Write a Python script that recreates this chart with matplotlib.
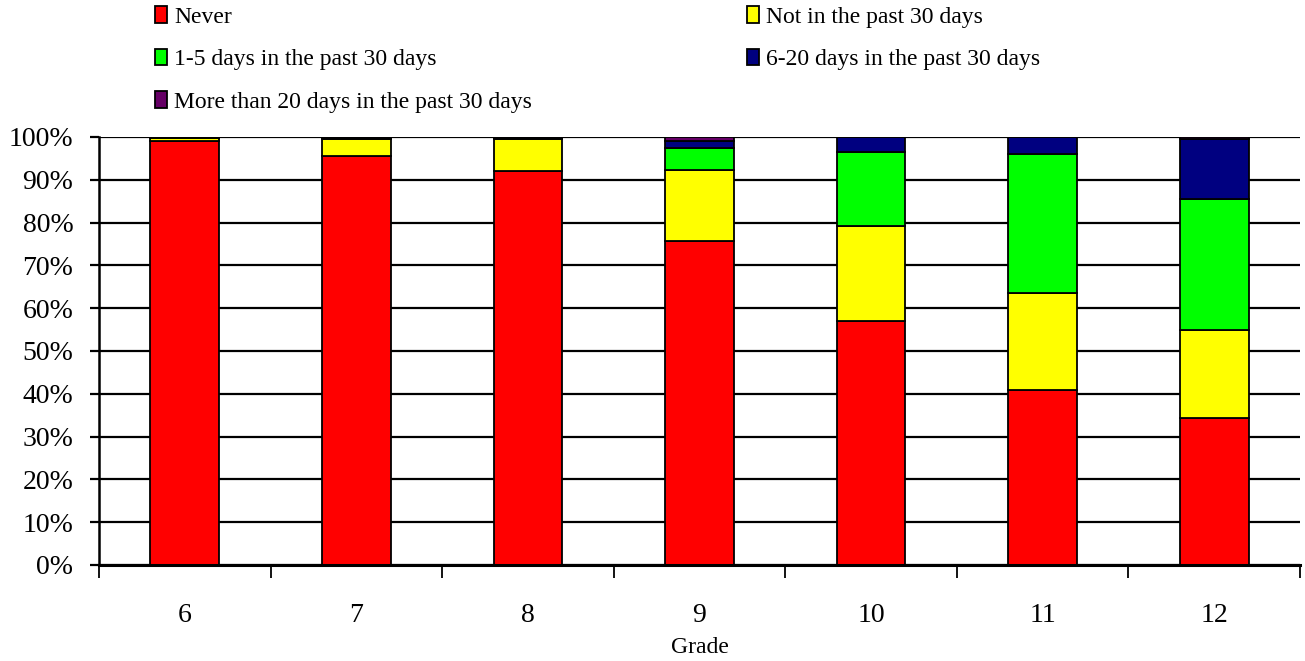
import numpy as np
import matplotlib
matplotlib.use("Agg")
import matplotlib.pyplot as plt
from matplotlib.ticker import FixedLocator, PercentFormatter

plt.rcParams['font.family'] = ['Liberation Serif', 'DejaVu Serif']

grades = ["6", "7", "8", "9", "10", "11", "12"]
never = [99.0, 95.5, 92.0, 75.8, 57.0, 40.9, 34.3]
not_30 = [0.8, 4.0, 7.5, 16.6, 22.3, 22.7, 20.6]
d1_5 = [0.1, 0.3, 0.3, 5.0, 17.2, 32.4, 30.5]
d6_20 = [0.05, 0.1, 0.1, 1.7, 3.4, 3.9, 14.1]
d20_plus = [0.05, 0.1, 0.1, 0.9, 0.1, 0.1, 0.5]

series = [
    ("Never", never, "#ff0000"),
    ("Not in the past 30 days", not_30, "#ffff00"),
    ("1-5 days in the past 30 days", d1_5, "#00ff00"),
    ("6-20 days in the past 30 days", d6_20, "#000080"),
    ("More than 20 days in the past 30 days", d20_plus, "#660066"),
]

fig = plt.figure(figsize=(13.05, 6.61), dpi=100)
ax = fig.add_axes([99 / 1305, 1 - 565 / 661, 1201 / 1305, 428 / 661])

x = np.arange(len(grades))
bottom = np.zeros(len(grades))
handles = {}
for name, vals, col in series:
    vals = np.array(vals)
    b = ax.bar(x, vals, 0.4, bottom=bottom, color=col, edgecolor="black",
               linewidth=1.3, label=name, zorder=3)
    handles[name] = b
    bottom += vals

ax.set_xlim(-0.5, len(grades) - 0.5)
ax.set_ylim(0, 100)
ax.set_yticks(np.arange(0, 101, 10))
ax.yaxis.set_major_formatter(PercentFormatter(decimals=0))
ax.grid(axis="y", color="black", linewidth=1.6, zorder=0)

ax.set_xticks(x)
ax.set_xticklabels(grades, fontsize=20)
ax.xaxis.set_minor_locator(FixedLocator(np.arange(-0.5, len(grades), 1.0)))
ax.tick_params(axis="x", which="major", length=0, pad=27)
ax.tick_params(axis="x", which="minor", length=9, width=1.3, direction="out")
ax.tick_params(axis="y", labelsize=20, length=6.5, width=1.6, pad=12)
ax.set_xlabel("Grade", fontsize=17, labelpad=7)

for s in ["top", "right"]:
    ax.spines[s].set_visible(False)
ax.spines["left"].set_linewidth(1.8)
ax.spines["bottom"].set_linewidth(2.2)
ax.spines["bottom"].set_zorder(5)

leg_kw = dict(frameon=False, fontsize=17, handlelength=0.5, handleheight=0.7,
              handletextpad=0.3, labelspacing=0.88, loc="upper left", borderaxespad=0)
left_names = ["Never", "1-5 days in the past 30 days", "More than 20 days in the past 30 days"]
right_names = ["Not in the past 30 days", "6-20 days in the past 30 days"]
fig.legend([handles[n] for n in left_names], left_names,
           bbox_to_anchor=(146 / 1305, 1 + 3 / 661), **leg_kw)
fig.legend([handles[n] for n in right_names], right_names,
           bbox_to_anchor=(738 / 1305, 1 + 3 / 661), **leg_kw)

plt.savefig("out.png", dpi=100)
